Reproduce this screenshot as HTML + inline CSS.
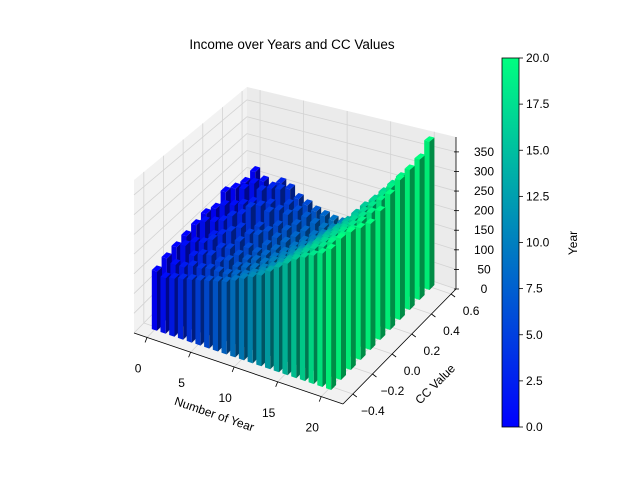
<!DOCTYPE html>
<html><head><meta charset="utf-8"><style>
body{margin:0;background:#fff;}
svg{display:block;font-family:"Liberation Sans","DejaVu Sans",sans-serif;}
</style></head><body>
<svg id="c" width="640" height="480" viewBox="0 0 640 480">
<defs><linearGradient id="winter" x1="0" y1="1" x2="0" y2="0"><stop offset="0" stop-color="#0000ff"/><stop offset="1" stop-color="#00ff80"/></linearGradient></defs>
<text x="292" y="49" text-anchor="middle" font-size="13.5">Income over Years and CC Values</text>
<g id="panes"></g>
<g id="bars"></g>
<g id="axes"></g>
<rect x="502" y="58" width="17" height="369" fill="url(#winter)" stroke="#000" stroke-width="0.8"/>
<g id="cbar"></g>
<text transform="translate(577,243) rotate(-90)" text-anchor="middle" font-size="12">Year</text>
<text transform="translate(213,418) rotate(19)" text-anchor="middle" font-size="12">Number of Year</text>
<text transform="translate(438,387) rotate(-45)" text-anchor="middle" font-size="12">CC Value</text>
</svg>
<script>
const years=[0,1,2,3,4,5,6,7,8,9,10,11,12,13,14,15,16,17,18,19,20];
const ccValues=[-0.4,-0.3,-0.2,-0.1,0.0,0.1,0.2,0.3,0.4,0.5,0.6];
const incomeCcM04=[150,140,145,150,155,160,165,170,175,185,195,205,215,230,245,260,275,285,295,305,320];
const incomeCcM03=[160,150,150,160,160,165,165,165,170,175,185,195,205,220,240,255,270,285,295,310,325];
const incomeCcM02=[165,175,155,165,170,160,170,160,165,170,175,185,200,215,235,250,265,280,290,305,320];
const incomeCcM01=[170,160,165,180,165,170,160,155,160,160,170,180,190,210,225,245,260,275,290,300,310];
const incomeCc00=[175,190,160,170,185,165,155,150,150,150,160,170,185,200,220,240,255,270,285,300,300];
const incomeCc01=[180,165,175,195,170,160,165,145,140,140,150,160,175,195,215,235,250,270,285,300,310];
const incomeCc02=[170,185,160,175,200,155,150,140,135,130,140,150,170,190,210,230,250,270,290,310,330];
const incomeCc03=[190,160,170,165,180,170,140,135,125,120,130,145,160,180,205,230,255,275,295,320,345];
const incomeCc04=[175,180,150,190,160,150,145,125,115,110,120,135,150,170,200,225,250,275,300,325,350];
const incomeCc05=[165,170,145,170,175,140,130,120,110,105,110,120,135,160,190,215,245,270,295,320,355];
const incomeCc06=[170,150,140,160,150,130,120,110,105,100,100,105,110,120,140,170,200,240,280,330,380];
const incomeRows=[incomeCcM04,incomeCcM03,incomeCcM02,incomeCcM01,incomeCc00,incomeCc01,incomeCc02,incomeCc03,incomeCc04,incomeCc05,incomeCc06];
const xTicks=[0,5,10,15,20];
const yTicks=[-0.4,-0.2,0.0,0.2,0.4,0.6];
const zTicks=[0,50,100,150,200,250,300,350];
const cbTicks=[0,2.5,5,7.5,10,12.5,15,17.5,20];

const NS="http://www.w3.org/2000/svg";
const XMIN=-1.5,XMAX=22.5,YMIN=-0.5,YMAX=0.65,ZMAX=388;
const A=[134,333],BU=[209,71],DV=[113,-115];
function P(x,y,z){
 const u=(x-XMIN)/(XMAX-XMIN),v=(y-YMIN)/(YMAX-YMIN);
 const H=153+21*u-22*v;
 return [A[0]+u*BU[0]+v*DV[0], A[1]+u*BU[1]+v*DV[1]-z/ZMAX*H];
}
function el(tag,attrs,parent){const e=document.createElementNS(NS,tag);for(const k in attrs)e.setAttribute(k,attrs[k]);parent.appendChild(e);return e;}
function poly(pts){return pts.map(p=>p[0].toFixed(1)+","+p[1].toFixed(1)).join(" ");}
const panes=document.getElementById('panes');
let f=el('polygon',{points:poly([P(XMIN,YMIN,0),P(XMAX,YMIN,0),P(XMAX,YMAX,0),P(XMIN,YMAX,0)]),fill:'#f2f2f2',stroke:'none'},panes);


let bw=el('polygon',{points:poly([P(XMIN,YMAX,0),P(XMAX,YMAX,0),P(XMAX,YMAX,ZMAX),P(XMIN,YMAX,ZMAX)]),fill:'#ebebeb',stroke:'none'},panes);


let lw=el('polygon',{points:poly([P(XMIN,YMIN,0),P(XMIN,YMAX,0),P(XMIN,YMAX,ZMAX),P(XMIN,YMIN,ZMAX)]),fill:'#f2f2f2',stroke:'none'},panes);


function line(p,q,c,w,parent,name){const l=el('line',{x1:p[0],y1:p[1],x2:q[0],y2:q[1],stroke:c,'stroke-width':w},parent);


return l;}
const gc='#d3d3d3';
xTicks.forEach(x=>{line(P(x,YMIN,0),P(x,YMAX,0),gc,0.8,panes,'grid-x');line(P(x,YMAX,0),P(x,YMAX,ZMAX),gc,0.8,panes,'grid-x');});
yTicks.forEach(y=>{line(P(XMIN,y,0),P(XMAX,y,0),gc,0.8,panes,'grid-y');line(P(XMIN,y,0),P(XMIN,y,ZMAX),gc,0.8,panes,'grid-y');});
zTicks.forEach(z=>{line(P(XMIN,YMIN,z),P(XMIN,YMAX,z),gc,0.8,panes,'grid-z');line(P(XMIN,YMAX,z),P(XMAX,YMAX,z),gc,0.8,panes,'grid-z');});

function winter(t,k){return 'rgb(0,'+Math.round(255*t*k)+','+Math.round(255*(1-0.5*t)*k)+')';}
const bars=document.getElementById('bars');
const DX=0.3,DY=0.025;
for(let r=ccValues.length-1;r>=0;r--){
 const y=ccValues[r];
 years.forEach((yr,i)=>{
  const z=incomeRows[r][i],t=yr/20;
  const x0=yr-DX,x1=yr+DX,y0=y-DY,y1=y+DY;
  const g=el('g',{},bars);
  
  
  el('polygon',{points:poly([P(x0,y0,0),P(x1,y0,0),P(x1,y0,z),P(x0,y0,z)]),fill:winter(t,0.92)},g);
  el('polygon',{points:poly([P(x1,y0,0),P(x1,y1,0),P(x1,y1,z),P(x1,y0,z)]),fill:winter(t,0.55)},g);
  el('polygon',{points:poly([P(x0,y0,z),P(x1,y0,z),P(x1,y1,z),P(x0,y1,z)]),fill:winter(t,1)},g);
 });
}
const axes=document.getElementById('axes');
line(P(XMIN,YMIN,0),P(XMAX,YMIN,0),'#000',0.8,axes,'x-axis-line');
line(P(XMAX,YMIN,0),P(XMAX,YMAX,0),'#000',0.8,axes,'y-axis-line');
line(P(XMAX,YMAX,0),P(XMAX,YMAX,ZMAX),'#000',0.8,axes,'z-axis-line');
function txt(s,x,y,anchor,parent,name){const t=el('text',{x:x,y:y,'text-anchor':anchor,'font-size':12},parent);t.textContent=s;


return t;}
xTicks.forEach(x=>{const p=P(x,YMIN,0);line(p,[p[0]-2,p[1]+5],'#000',0.8,axes,'x-tick');txt(String(x),p[0]-9,p[1]+35,'middle',axes,'x-tick-label');});
yTicks.forEach(y=>{const p=P(XMAX,y,0);line(p,[p[0]+4,p[1]+3],'#000',0.8,axes,'y-tick');txt(y.toFixed(1).replace('-','\u2212'),p[0]+20,p[1]+21,'middle',axes,'y-tick-label');});
zTicks.forEach(z=>{const p=P(XMAX,YMAX,z);line([p[0]-2,p[1]],[p[0]+3,p[1]],'#000',0.8,axes,'z-tick');txt(String(z),p[0]+28,p[1]+4,'middle',axes,'z-tick-label');});
const cb=document.getElementById('cbar');
cbTicks.forEach(v=>{const yy=427-v/20*369;line([519,yy],[523,yy],'#000',0.8,cb,'colorbar-tick');txt(v.toFixed(1),526,yy+4,'start',cb,'colorbar-tick-label');});
</script>
</body></html>
